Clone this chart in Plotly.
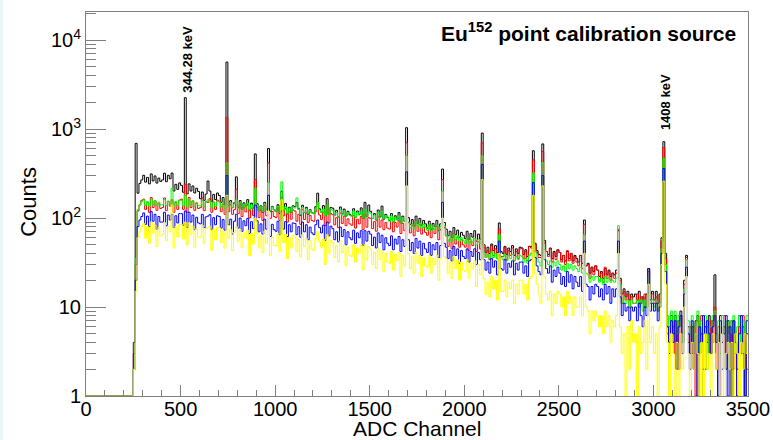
import numpy as np
import plotly.graph_objects as go

# ---------------- data (10-channel bins, counts per bin) ----------------
BIN_WIDTH = 10
X_MAX = 3500
X_TICKS = [0, 500, 1000, 1500, 2000, 2500, 3000, 3500]
Y_TICKS = [1, 10, 100, 1000, 10000]
Y_TICKTEXT = ["1", "10", "10<sup>2</sup>", "10<sup>3</sup>", "10<sup>4</sup>"]

black = [
    1,1,1,1,1,1,1,1,1,1,
    1,1,1,1,1,1,1,1,1,1,
    1,1,1,1,1,2,690,190,245,268,
    302,253,286,242,313,261,297,247,281,258,
    268,319,256,302,276,320,201,239,210,248,
    233,195,2250,187,242,201,229,191,216,199,
    165,196,158,186,260,201,154,184,161,191,
    179,150,170,143,5650,138,157,131,148,290,
    132,157,126,148,136,161,123,147,129,525,
    145,121,137,116,150,125,605,119,135,124,
    118,141,113,200,122,145,111,132,116,137,
    134,150,127,107,139,116,132,110,124,115,
    113,134,190,127,116,138,106,165,110,131,
    129,108,122,103,133,111,126,105,119,110,
    106,127,102,120,110,130,99,150,104,140,
    119,99,112,95,123,103,136,97,110,102,
    94,112,90,106,97,115,88,105,92,1035,
    101,85,96,81,105,87,99,83,94,86,
    77,92,74,87,80,94,72,86,355,89,
    75,63,71,60,78,65,73,61,69,64,
    59,71,57,67,61,72,55,66,58,900,
    50,41,47,40,51,43,49,41,88,42,
    40,48,39,46,42,49,38,45,40,47,
    46,39,44,37,48,48,570,52,43,39,
    38,680,56,42,39,46,35,42,37,44,
    41,34,38,33,42,35,40,33,38,35,
    32,38,31,95,29,31,24,28,25,29,
    26,22,25,21,27,23,26,22,24,23,
    26,72,21,14,16,13,15,12,14,13,
    14,12,15,11,13,10,14,27,12,15,
    12,15,11,14,60,720,40,6,3,8,
    5,8,2,7,9,4,20,38,6,3,
    6,2,7,8,3,5,0,6,4,8,
    3,7,23,5,1,8,4,6,2,7,
    5,0,7,4,2,8,3,6,1,5,
]

red = [
    1,1,1,1,1,1,1,1,1,1,
    1,1,1,1,1,1,1,1,1,1,
    1,1,1,1,1,3,30,120,140,158,
    163,125,151,116,170,131,156,122,146,128,
    131,168,121,153,136,160,116,151,125,159,
    163,125,240,116,170,131,156,122,146,128,
    131,168,121,153,150,165,116,151,125,159,
    154,118,142,110,1350,118,141,110,124,210,
    112,144,104,132,117,142,100,129,107,270,
    132,101,122,94,138,106,415,99,118,104,
    101,130,94,170,106,128,90,117,97,123,
    120,92,110,85,125,96,114,89,107,94,
    92,118,150,108,96,116,82,140,88,112,
    109,84,101,78,114,87,105,82,98,86,
    83,106,77,97,86,104,74,110,79,101,
    99,76,91,71,103,79,95,74,89,77,
    75,97,70,89,79,95,67,87,72,700,
    89,68,82,63,92,71,85,66,79,69,
    64,83,60,76,67,81,57,74,270,78,
    63,48,58,45,66,51,61,47,57,50,
    47,60,43,55,49,59,42,54,45,700,
    47,36,43,34,49,38,45,35,75,37,
    37,47,34,43,38,46,33,42,35,45,
    46,35,42,33,48,46,450,50,41,36,
    36,560,52,42,37,45,32,41,34,44,
    41,32,38,30,43,33,40,31,37,32,
    29,38,27,85,29,30,21,28,23,29,
    26,20,24,19,28,21,25,20,24,21,
    24,75,20,11,15,12,14,10,13,11,
    11,14,10,13,12,14,10,25,11,14,
    11,13,9,14,55,620,35,5,4,7,
    6,3,7,2,8,5,18,36,4,6,
    3,6,1,7,4,8,2,5,6,3,
    7,4,10,2,6,0,5,8,3,6,
    4,7,2,5,0,6,3,8,4,2,
]

green = [
    1,1,1,1,1,1,1,1,1,1,
    1,1,1,1,1,1,1,1,1,1,
    1,1,1,1,1,2,35,125,142,152,
    160,139,152,135,163,142,157,138,151,141,
    141,161,138,155,145,215,135,154,139,158,
    158,137,180,133,161,140,155,136,149,139,
    137,157,134,151,160,156,131,150,135,154,
    152,133,145,128,415,135,149,131,144,160,
    129,148,126,143,133,147,124,141,128,215,
    140,122,134,118,143,125,250,121,133,124,
    118,135,115,255,122,134,113,129,117,133,
    130,168,124,109,132,115,127,112,122,114,
    111,128,150,123,115,126,106,140,110,125,
    122,106,116,103,124,108,120,105,115,107,
    105,120,102,116,108,119,100,125,103,118,
    113,99,108,96,116,101,118,98,107,100,
    92,106,90,102,95,105,88,101,91,500,
    90,78,85,76,91,80,88,77,85,79,
    73,84,72,81,75,83,70,80,200,82,
    64,55,61,54,65,57,63,55,60,56,
    52,60,51,58,54,59,50,57,52,500,
    41,36,39,35,42,36,40,35,65,36,
    34,39,33,38,35,39,33,37,34,38,
    37,32,35,31,38,40,320,42,35,32,
    29,420,44,33,30,33,28,32,29,33,
    30,26,29,25,31,27,30,26,29,27,
    25,28,24,65,24,23,19,22,20,22,
    22,19,21,18,22,19,21,19,20,19,
    21,82,18,11,13,11,12,10,12,11,
    11,12,10,12,9,12,10,22,11,12,
    10,12,9,11,45,470,30,8,6,9,
    7,9,5,8,6,4,16,34,7,5,
    8,4,6,9,3,7,5,8,2,6,
    6,8,9,4,7,3,8,5,7,4,
    7,5,8,3,6,8,4,7,5,8,
]

blue = [
    1,1,1,1,1,1,1,1,1,1,
    1,1,1,1,1,1,1,1,1,1,
    1,1,1,1,1,4,20,80,95,104,
    114,85,105,80,118,92,110,75,104,90,
    90,116,82,108,95,110,78,106,88,112,
    112,83,120,78,116,90,108,74,102,88,
    86,110,78,103,105,109,74,101,84,106,
    104,77,96,73,300,84,97,66,92,110,
    77,100,71,93,82,99,67,91,76,140,
    93,70,86,66,97,75,180,62,85,74,
    71,92,65,120,75,91,62,84,70,88,
    87,65,80,61,90,70,84,57,79,68,
    65,84,95,78,68,83,56,90,63,81,
    76,57,70,54,79,62,74,50,70,60,
    57,73,52,68,60,72,49,72,55,71,
    66,49,61,46,68,53,64,44,60,52,
    49,63,44,58,51,62,42,57,48,330,
    57,43,53,40,59,46,55,38,52,45,
    41,53,38,50,44,53,36,49,150,52,
    47,35,43,33,48,38,45,31,43,37,
    35,45,32,42,37,45,30,41,34,400,
    34,26,32,24,35,28,33,23,55,27,
    26,34,24,31,28,33,23,31,26,32,
    32,24,29,22,33,34,250,36,29,25,
    23,300,34,27,24,29,19,26,22,28,
    24,18,22,17,25,19,23,16,22,19,
    17,22,15,55,18,17,12,17,14,18,
    17,13,16,12,18,14,17,11,16,13,
    16,55,13,8,11,9,10,7,10,9,
    10,7,11,8,6,10,8,27,9,11,
    9,11,7,10,40,360,25,6,3,7,
    4,7,2,6,8,3,14,28,5,2,
    7,3,5,1,6,4,8,2,7,5,
    3,6,8,4,0,7,2,5,8,1,
    6,2,7,4,1,5,8,3,0,7,
]

yellow = [
    1,1,1,1,1,1,1,1,1,1,
    1,1,1,1,1,1,1,1,1,1,
    1,1,1,1,1,2,15,60,70,80,
    87,59,80,52,90,67,83,48,78,63,
    65,89,56,81,70,140,46,80,61,85,
    85,58,90,50,88,65,81,47,76,61,
    61,83,52,76,78,81,43,75,57,79,
    78,53,71,46,180,59,74,43,69,80,
    55,74,47,68,59,73,38,67,51,100,
    68,46,63,41,71,52,120,38,61,49,
    49,67,42,160,53,66,35,60,46,64,
    63,42,57,37,65,48,59,34,56,45,
    43,59,70,54,47,58,30,65,40,56,
    53,36,49,32,55,41,50,29,47,38,
    37,50,32,46,40,50,26,50,34,48,
    45,30,41,27,46,34,43,25,40,32,
    31,42,26,39,33,41,22,38,29,230,
    40,27,37,24,41,31,38,22,36,29,
    28,38,24,35,30,38,20,35,100,37,
    35,24,32,21,37,27,34,20,32,26,
    25,34,21,31,27,33,17,30,23,270,
    21,14,19,13,22,16,20,12,40,15,
    15,20,13,19,16,20,11,18,14,20,
    20,14,18,12,21,22,180,24,18,14,
    11,230,22,14,12,15,8,14,11,15,
    14,10,13,8,15,11,13,8,13,10,
    10,13,8,40,10,9,5,9,7,9,
    8,6,8,5,9,6,8,4,7,6,
    8,40,6,3,5,0,6,2,7,4,
    5,0,6,3,4,7,2,18,4,6,
    3,5,0,6,30,260,18,4,1,5,
    3,1,4,0,5,2,10,22,3,1,
    4,2,5,3,1,4,0,5,2,3,
    1,5,3,2,4,1,5,0,3,4,
    2,4,1,5,3,0,4,2,5,3,
]

SERIES = [
    ("black", black, "#000000"),
    ("red", red, "#ff0000"),
    ("green", green, "#00ff00"),
    ("blue", blue, "#0000ff"),
    ("yellow", yellow, "#ffff00"),
]

PEAK_LABELS = [("344.28 keV", 540, 3.38), ("1408 keV", 3061, 2.965)]

# ---------------- figure ----------------
edges = np.arange(0, X_MAX + BIN_WIDTH, BIN_WIDTH)
FLOOR = 0.5  # empty bins drawn below the axis minimum, as ROOT does on log scale

fig = go.Figure()
for name, vals, col in SERIES:
    y = [v if v > 0 else FLOOR for v in vals]
    y = y + [y[-1]]
    fig.add_trace(go.Scatter(
        x=edges, y=y, mode="lines", line_shape="hv",
        line=dict(color=col, width=1), name=name, showlegend=False,
        hoverinfo="skip",
    ))

FONT = "Liberation Sans, Arial, Helvetica, sans-serif"
AX = "#7f7f7f"

minor_y = []
for dec in [1, 10, 100, 1000, 10000]:
    for k in range(2, 10):
        minor_y.append(k * dec)

fig.update_xaxes(
    range=[0, X_MAX], tickvals=X_TICKS, ticks="inside", ticklen=11, tickwidth=1,
    tickcolor=AX, showline=True, linecolor=AX, linewidth=1, mirror=True,
    showgrid=False, zeroline=False, ticklabelstandoff=-5, automargin=False,
    tickfont=dict(family=FONT, size=20, color="#000"),
    minor=dict(ticks="inside", ticklen=6, dtick=100, tick0=0, tickcolor=AX, showgrid=False),
)
fig.update_yaxes(
    type="log", range=[0, 4.315], tickvals=Y_TICKS, ticktext=Y_TICKTEXT,
    ticks="inside", ticklen=20, tickwidth=1, tickcolor=AX,
    showline=True, linecolor=AX, linewidth=1, mirror=True,
    showgrid=False, zeroline=False, automargin=False,
    tickfont=dict(family=FONT, size=20, color="#000"),
    minor=dict(ticks="inside", ticklen=10, tickvals=minor_y, tickcolor=AX, showgrid=False),
)

annotations = [
    dict(text="ADC Channel", xref="paper", yref="paper", x=0.5, y=-0.085,
         xanchor="center", yanchor="middle", showarrow=False,
         font=dict(family=FONT, size=21, color="#000")),
    dict(text="Counts", xref="paper", yref="paper", x=-0.088, y=0.505,
         xanchor="center", yanchor="middle", textangle=-90, showarrow=False,
         font=dict(family=FONT, size=22, color="#000")),
    dict(text="<b>Eu<sup>152</sup> point calibration source</b>", xref="paper", yref="paper",
         x=0.985, y=0.948, xanchor="right", yanchor="middle", showarrow=False,
         font=dict(family=FONT, size=21, color="#000")),
]
for txt, xc, ylog in PEAK_LABELS:
    annotations.append(dict(
        text="<b>%s</b>" % txt, x=xc, y=ylog, xref="x", yref="y",
        xanchor="center", yanchor="bottom", textangle=-90, showarrow=False,
        font=dict(family=FONT, size=13, color="#000"),
    ))

fig.update_layout(
    width=773, height=440,
    margin=dict(l=86, r=25, t=12, b=44),
    paper_bgcolor="white", plot_bgcolor="white",
    annotations=annotations,
    shapes=[dict(type="rect", xref="paper", yref="paper",
                 x0=-0.1299, x1=-0.1254, y0=-0.115, y1=1.031,
                 fillcolor="#eaf5f8", line=dict(width=0), layer="below")],
)

fig.write_html("out.html")
